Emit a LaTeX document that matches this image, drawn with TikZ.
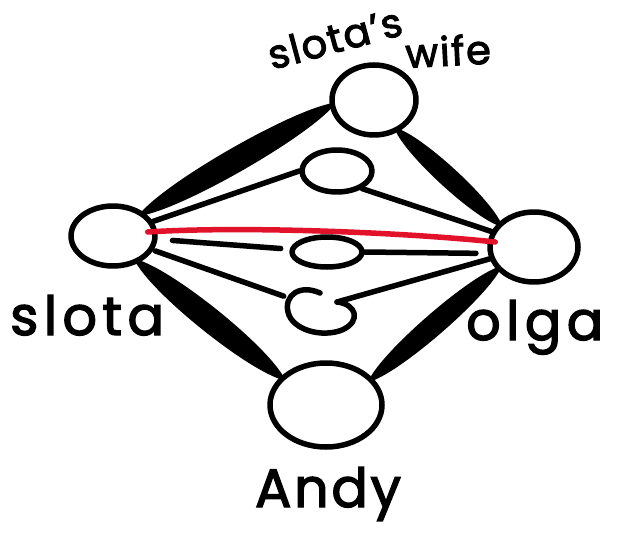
\documentclass[tikz,border=0pt]{standalone}
\usepackage{fontspec}
\setmainfont{Poppins}
\usetikzlibrary{shapes.geometric,calc}
\definecolor{penred}{HTML}{E3122B}
\newcommand\spindle[3]{%
  \filldraw[line width=5pt,line join=round,line cap=round]
    (#1) .. controls ($(#1)!0.2!(#2)!#3!90:(#2)$) and ($(#1)!0.8!(#2)!#3!90:(#2)$) .. (#2)
         .. controls ($(#1)!0.8!(#2)!#3!-90:(#2)$) and ($(#1)!0.2!(#2)!#3!-90:(#2)$) .. (#1) -- cycle;}
\begin{document}
\begin{tikzpicture}[x=1pt,y=-1pt,
  pen/.style={line width=5.5pt,line cap=round,line join=round},
  person/.style={ellipse,draw,pen,inner sep=0pt},
  hub/.style={ellipse,draw,pen,inner sep=0pt},
  thin/.style={pen},
  lbl/.style={font=\fontsize{54}{54}\selectfont\addfontfeature{FakeBold=2.5,LetterSpace=10}},
  slbl/.style={font=\fontsize{40}{40}\selectfont\addfontfeature{FakeBold=2.5,LetterSpace=4}}]
\useasboundingbox (0,0) rectangle (620,537);
\fill[white] (0,0) rectangle (620,537);
% people
\node[person,minimum width=84pt,minimum height=60pt] (slota) at (113,236) {};
\node[person,minimum width=84pt,minimum height=70pt] (wife) at (374,100) {};
\node[person,minimum width=88pt,minimum height=70pt] (olga) at (534,247) {};
\node[person,minimum width=112pt,minimum height=84pt] (andy) at (326,405) {};
% middle hubs
\node[hub,minimum width=70pt,minimum height=42pt] (e1) at (337,171) {};
\node[hub,minimum width=70pt,minimum height=30pt] (e2) at (327,252) {};
\node[ellipse,minimum width=72pt,minimum height=46pt,inner sep=0pt] (c) at (323,310) {};
\coordinate (ctail) at (337,302);
\draw[pen] (320,293) .. controls (300,284) and (284,295) .. (288,312)
  .. controls (292,330) and (322,338) .. (342,330)
  .. controls (362,321) and (356,304) .. (ctail);
% thick bands
\spindle{slota.37}{wife.188}{13pt}
\spindle{wife.-52}{olga.146}{10pt}
\spindle{slota.-46}{andy.148}{13pt}
\spindle{andy.30}{olga.212}{11pt}
% thin links through hubs
\draw[thin] (slota.20) -- (e1.west);
\draw[thin] (e1.-35) -- (olga.160);
\draw[thin,shorten <=15pt,shorten >=9pt] (slota) -- (e2);
\draw[thin,shorten >=12pt] (e2.east) -- (olga.188);
\draw[thin,shorten <=2pt,shorten >=8pt] (slota) -- (c);
\draw[thin] (ctail) -- (olga.195);
% red link
\draw[pen,penred] ([xshift=-10pt,yshift=4pt]slota.east) .. controls (240,226) and (400,232) .. ([xshift=8pt,yshift=5pt]olga.west);
% labels
\node[lbl,anchor=base west,inner sep=0pt] (tslota) at (10,335) {slota};
\node[lbl,anchor=base west,inner sep=0pt] (tolga) at (466,340) {olga};
\node[lbl,font=\fontsize{54}{54}\selectfont\addfontfeature{FakeBold=2.5,LetterSpace=5},anchor=base,inner sep=0pt] (tandy) at (328,507) {Andy};
\node[slbl,anchor=base west,inner sep=0pt,rotate=15] (twife1) at (272,70) {slota's};
\node[slbl,anchor=base west,inner sep=0pt,rotate=3] (twife2) at (406,68) {wife};
\end{tikzpicture}
\end{document}
